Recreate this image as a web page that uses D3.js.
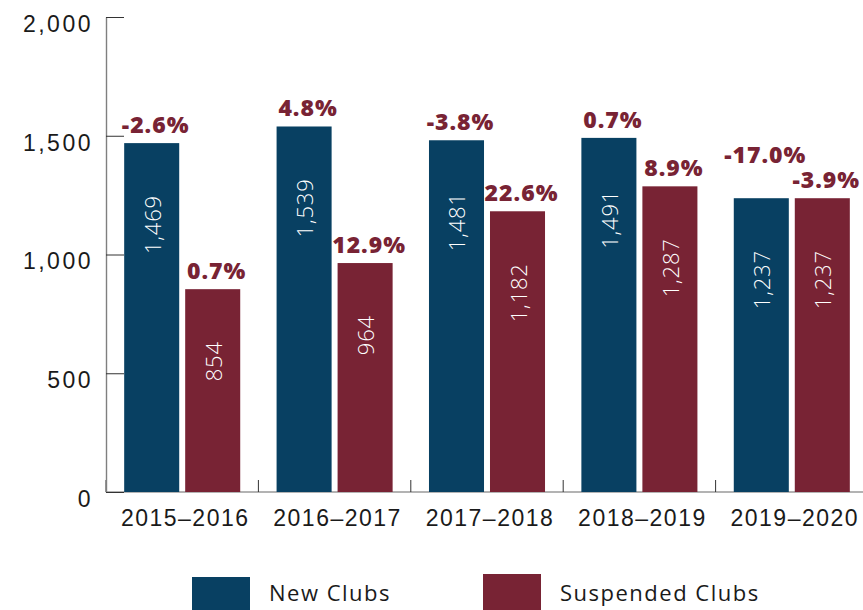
<!DOCTYPE html>
<html>
<head>
  <meta charset="utf-8" />
  <title>New and Suspended Clubs</title>
  <script src="https://d3js.org/d3.v7.min.js"></script>
  <style>
    body { margin: 0; background: #fff; }
    svg { display: block; font-family: "Open Sans", sans-serif; }
    .axis text { fill: #1a1a1a; font-size: 23px; letter-spacing: 1.5px; }
    .y.axis text { letter-spacing: 2.5px; }
    .y.axis .domain { stroke: #7f7f7f; stroke-width: 1.4; }
    .y.axis .tick line { stroke: #333; }
    .pct { fill: #782334; font-size: 23px; font-weight: 800; letter-spacing: 1px; }
    .val { fill: #fff; font-size: 22px; font-weight: 300; letter-spacing: 0.8px; }
    .legend text { fill: #1a1a1a; font-size: 22px; letter-spacing: 1.5px; }
  </style>
</head>
<body>
  <div id="chart"></div>
  <script>
    // data
    var years = ["2015\u20132016", "2016\u20132017", "2017\u20132018", "2018\u20132019", "2019\u20132020"];
    var series = ["New Clubs", "Suspended Clubs"];
    var newClubs = [1469, 1539, 1481, 1491, 1237];
    var suspendedClubs = [854, 964, 1182, 1287, 1237];
    var newChange = [-2.6, 4.8, -3.8, 0.7, -17.0];
    var suspendedChange = [0.7, 12.9, 22.6, 8.9, -3.9];
    var yTicks = [0, 500, 1000, 1500, 2000];
    var colors = ["#084062", "#782334"];

    var W = 863, H = 610;
    var plotLeft = 106, plotBottom = 492, plotTop = 17;

    var data = years.map(function (yr, i) {
      return {
        year: yr,
        bars: [
          { key: series[0], value: newClubs[i], change: newChange[i] },
          { key: series[1], value: suspendedClubs[i], change: suspendedChange[i] }
        ]
      };
    });

    var svg = d3.select("#chart").append("svg")
      .attr("width", W)
      .attr("height", H);

    var x0 = d3.scaleBand()
      .domain(years)
      .range([plotLeft, plotLeft + 5 * 152.4]);

    var x1 = d3.scaleBand()
      .domain(series)
      .range([0, x0.bandwidth()])
      .paddingInner(0.098)
      .paddingOuter(0.298);

    var y = d3.scaleLinear()
      .domain([0, 2000])
      .range([plotBottom, plotTop]);

    var color = d3.scaleOrdinal().domain(series).range(colors);

    // x baseline
    svg.append("line")
      .attr("x1", plotLeft).attr("x2", W)
      .attr("y1", plotBottom).attr("y2", plotBottom)
      .attr("stroke", "#9a9a9a")
      .attr("stroke-width", 1.4);

    // group boundary ticks
    svg.selectAll(".gtick")
      .data(years)
      .enter().append("line")
      .attr("class", "gtick")
      .attr("x1", function (d) { return x0(d); })
      .attr("x2", function (d) { return x0(d); })
      .attr("y1", plotBottom - 12)
      .attr("y2", plotBottom)
      .attr("stroke", "#333");

    // y axis
    var yAxis = d3.axisLeft(y)
      .tickValues(yTicks)
      .tickFormat(d3.format(","))
      .tickSizeInner(-18)
      .tickSizeOuter(0)
      .tickPadding(13);

    svg.append("g")
      .attr("class", "y axis")
      .attr("transform", "translate(" + plotLeft + ",0)")
      .call(yAxis)
      .selectAll("text")
      .attr("dy", "0.62em");

    // x labels
    var xAxis = d3.axisBottom(x0).tickSize(0).tickPadding(18);
    svg.append("g")
      .attr("class", "x axis")
      .attr("transform", "translate(0," + plotBottom + ")")
      .call(xAxis)
      .call(function (g) { g.select(".domain").remove(); })
      .selectAll("text")
      .attr("dx", 3);

    // bars
    var groups = svg.selectAll(".group")
      .data(data)
      .enter().append("g")
      .attr("class", "group")
      .attr("transform", function (d) { return "translate(" + x0(d.year) + ",0)"; });

    groups.selectAll("rect")
      .data(function (d) { return d.bars; })
      .enter().append("rect")
      .attr("x", function (d) { return x1(d.key); })
      .attr("y", function (d) { return y(d.value); })
      .attr("width", x1.bandwidth())
      .attr("height", function (d) { return plotBottom - y(d.value); })
      .attr("fill", function (d) { return color(d.key); });

    // value labels, rotated inside the bars
    groups.selectAll(".val")
      .data(function (d) { return d.bars; })
      .enter().append("text")
      .attr("class", "val")
      .attr("text-anchor", "end")
      .attr("dominant-baseline", "central")
      .attr("transform", function (d) {
        var cx = x1(d.key) + x1.bandwidth() / 2;
        return "translate(" + cx + "," + (y(d.value) + 52) + ") rotate(-90)";
      })
      .text(function (d) { return d3.format(",")(d.value); });

    // change labels, lift the left one when both bars are about the same height
    groups.selectAll(".pct")
      .data(function (d) {
        var lift = Math.abs(y(d.bars[0].value) - y(d.bars[1].value)) < 24 ? 25 : 0;
        return d.bars.map(function (b, i) { return { bar: b, lift: i === 0 ? lift : 0 }; });
      })
      .enter().append("text")
      .attr("class", "pct")
      .attr("text-anchor", "middle")
      .attr("x", function (d) { return x1(d.bar.key) + x1.bandwidth() / 2 + 4; })
      .attr("y", function (d) { return y(d.bar.value) - 10 - d.lift; })
      .text(function (d) { return d.bar.change.toFixed(1) + "%"; });

    // legend
    var legend = svg.append("g").attr("class", "legend");
    var legendX = [192, 483];
    var items = legend.selectAll("g")
      .data(series)
      .enter().append("g")
      .attr("transform", function (d, i) { return "translate(" + legendX[i] + ",0)"; });

    items.append("rect")
      .attr("y", function (d, i) { return i === 0 ? 577 : 574; })
      .attr("width", 58)
      .attr("height", 40)
      .attr("fill", function (d) { return color(d); });

    items.append("text")
      .attr("x", 77)
      .attr("y", 601)
      .text(function (d) { return d; });
  </script>
</body>
</html>
